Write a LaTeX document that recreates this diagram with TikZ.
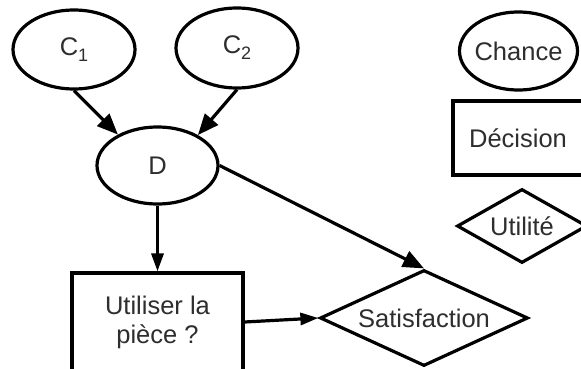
\documentclass[tikz,border=0pt]{standalone}
\usepackage{fontspec}
\setmainfont{Liberation Sans}
\usetikzlibrary{shapes.geometric,arrows.meta}
\begin{document}
\begin{tikzpicture}[x=1pt,y=-1pt,
  every node/.style={text=black!82, font=\fontsize{25.5}{29}\selectfont},
  chance/.style={draw=black, line width=3.2pt, ellipse, inner sep=0pt},
  decision/.style={draw=black, line width=3.2pt, rectangle, inner sep=0pt, align=center},
  utility/.style={draw=black, line width=3.2pt, diamond, inner sep=0pt},
  link/.style={line width=3.2pt, -{Triangle[length=21pt,width=17pt]}},
  straightlink/.style={line width=3.2pt, -{Triangle[length=18pt,width=12pt]}}]
\fill[white] (0,0) rectangle (581,369);
\useasboundingbox (0,0) rectangle (581,369);
\clip (0,0) rectangle (581,369);
\node[chance, minimum width=122pt, minimum height=79pt] (c1) at (74,49.5) {C\raisebox{-6pt}{\fontsize{18}{18}\selectfont 1}};
\node[chance, minimum width=122pt, minimum height=80pt] (c2) at (237,48) {C\raisebox{-6pt}{\fontsize{18}{18}\selectfont 2}};
\node[chance, minimum width=121pt, minimum height=77pt] (d) at (157.5,165.5) {D};
\node[decision, minimum width=171pt, minimum height=98pt] (use) at (157.5,322) {Utiliser la\\pièce ?};
\node[utility, minimum width=208pt, minimum height=96pt, aspect=2.17] (sat) at (424,318) {Satisfaction};
\node[chance, minimum width=118pt, minimum height=78pt] (lc) at (518.5,51) {\makebox[0pt]{Chance}};
\node[decision, minimum width=130pt, minimum height=74pt] (ld) at (518,138) {Décision};
\node[utility, minimum width=130pt, minimum height=74pt, aspect=1.76] (lu) at (522,226) {Utilité};
\draw[link] (c1.south) -- (d.142);
\draw[link] (c2.south) -- (d.37);
\draw[straightlink] (d.south) -- (use.north);
\draw[link] (d.east) -- (sat.north);
\draw[straightlink] (use.east) -- (sat.west);
\end{tikzpicture}
\end{document}
